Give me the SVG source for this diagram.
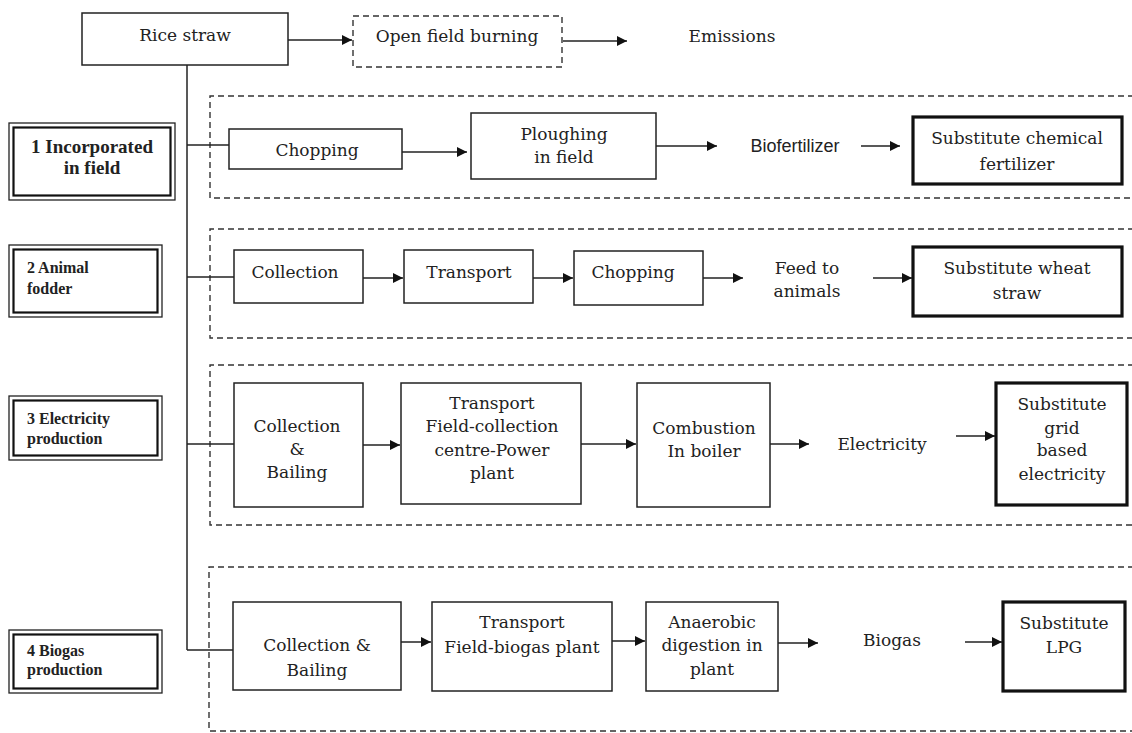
<svg xmlns="http://www.w3.org/2000/svg" width="1132" height="733" viewBox="0 0 1132 733">
<defs>
<marker id="ah" viewBox="0 0 10 10" refX="10" refY="5" markerWidth="10" markerHeight="10" markerUnits="userSpaceOnUse" orient="auto">
<path d="M0,0 L10,5 L0,10 z" fill="#111"/>
</marker>
<style>
text{font-family:"DejaVu Serif","Liberation Serif",serif;font-size:17px;fill:#222;text-anchor:middle}
.sans{font-family:"Liberation Sans",Arial,sans-serif;font-size:18px}
.lab{font-family:"Liberation Serif",serif;font-weight:bold;font-size:19px}
.lab2{font-family:"Liberation Serif",serif;font-weight:bold;font-size:16px;text-anchor:start}
.box{fill:#fff;stroke:#222;stroke-width:1.5}
.thick{fill:#fff;stroke:#111;stroke-width:3.2}
.dash{fill:none;stroke:#333;stroke-width:1.4;stroke-dasharray:6 4}
.outer{fill:#fff;stroke:#222;stroke-width:1.3}
.inner{fill:none;stroke:#111;stroke-width:2.2}
.con{fill:none;stroke:#222;stroke-width:1.5}
.arr{fill:none;stroke:#222;stroke-width:1.5;marker-end:url(#ah)}
</style>
</defs>
<rect width="1132" height="733" fill="#fff"/>

<g id="regions">
<path class="dash" d="M1134,96 H210 V198 H1134"/>
<path class="dash" d="M1134,229 H210 V338 H1134"/>
<path class="dash" d="M1134,365 H210 V525 H1134"/>
<path class="dash" d="M1134,567 H209 V731 H1134"/>
</g>

<g id="connectors">
<path class="con" d="M187,65 V650"/>
<path class="con" d="M187,145 H229"/>
<path class="con" d="M187,277 H234"/>
<path class="con" d="M187,444 H234"/>
<path class="con" d="M187,650 H233"/>
<path class="arr" d="M288,40 H352"/>
<path class="arr" d="M563,41 H627"/>
<path class="arr" d="M402,152 H467"/>
<path class="arr" d="M656,146 H717"/>
<path class="arr" d="M861,146 H900"/>
<path class="arr" d="M363,278 H403"/>
<path class="arr" d="M533,278 H573"/>
<path class="arr" d="M703,278 H743"/>
<path class="arr" d="M873,278 H912"/>
<path class="arr" d="M363,445 H400"/>
<path class="arr" d="M581,444 H636"/>
<path class="arr" d="M770,444 H809"/>
<path class="arr" d="M956,436 H995"/>
<path class="arr" d="M401,642 H431"/>
<path class="arr" d="M612,641 H645"/>
<path class="arr" d="M778,643 H818"/>
<path class="arr" d="M965,642 H1002"/>
</g>

<g id="rice-straw"><rect class="box" x="82" y="13" width="206" height="52"/><text x="185" y="41">Rice straw</text></g>
<g id="open-field-burning"><rect class="dash" x="353" y="16" width="209" height="51"/><text x="457" y="42">Open field burning</text></g>
<g id="emissions"><text x="732" y="42">Emissions</text></g>

<g id="label-1"><rect class="outer" x="9" y="123" width="166" height="77"/><rect class="inner" x="13.5" y="127.5" width="157" height="68"/><text class="lab" x="92" y="153">1 Incorporated</text><text class="lab" x="92" y="174">in field</text></g>
<g id="label-2"><rect class="outer" x="9" y="245" width="153" height="72"/><rect class="inner" x="13.5" y="249.5" width="144" height="63"/><text class="lab2" x="27" y="273">2 Animal</text><text class="lab2" x="27" y="294">fodder</text></g>
<g id="label-3"><rect class="outer" x="9" y="396" width="153" height="64"/><rect class="inner" x="13.5" y="400.5" width="144" height="55"/><text class="lab2" x="27" y="424">3 Electricity</text><text class="lab2" x="27" y="444">production</text></g>
<g id="label-4"><rect class="outer" x="9" y="630" width="153" height="63"/><rect class="inner" x="13.5" y="634.5" width="144" height="54"/><text class="lab2" x="27" y="656">4 Biogas</text><text class="lab2" x="27" y="675">production</text></g>

<g id="chopping-1"><rect class="box" x="229" y="129" width="173" height="40"/><text x="317" y="156">Chopping</text></g>
<g id="ploughing"><rect class="box" x="471" y="113" width="185" height="66"/><text x="564" y="140">Ploughing</text><text x="564" y="163">in field</text></g>
<g id="biofertilizer"><text class="sans" x="795" y="152">Biofertilizer</text></g>
<g id="sub-chem"><rect class="thick" x="913" y="117" width="209" height="67"/><text x="1017" y="144">Substitute chemical</text><text x="1017" y="170">fertilizer</text></g>

<g id="collection-2"><rect class="box" x="234" y="250" width="129" height="53"/><text x="295" y="278">Collection</text></g>
<g id="transport-2"><rect class="box" x="404" y="250" width="129" height="53"/><text x="469" y="278">Transport</text></g>
<g id="chopping-2"><rect class="box" x="574" y="251" width="129" height="54"/><text x="633" y="278">Chopping</text></g>
<g id="feed"><text x="807" y="274">Feed to</text><text x="807" y="297">animals</text></g>
<g id="sub-wheat"><rect class="thick" x="913" y="247" width="209" height="69"/><text x="1017" y="274">Substitute wheat</text><text x="1017" y="299">straw</text></g>

<g id="collection-3"><rect class="box" x="234" y="383" width="129" height="124"/><text x="297" y="432">Collection</text><text x="297" y="455">&amp;</text><text x="297" y="478">Bailing</text></g>
<g id="transport-3"><rect class="box" x="401" y="383" width="180" height="121"/><text x="492" y="409">Transport</text><text x="492" y="432">Field-collection</text><text x="492" y="456">centre-Power</text><text x="492" y="479">plant</text></g>
<g id="combustion"><rect class="box" x="637" y="383" width="133" height="124"/><text x="704" y="434">Combustion</text><text x="704" y="457">In boiler</text></g>
<g id="electricity"><text x="882" y="450">Electricity</text></g>
<g id="sub-grid"><rect class="thick" x="996" y="383" width="131" height="122"/><text x="1062" y="410">Substitute</text><text x="1062" y="434">grid</text><text x="1062" y="456">based</text><text x="1062" y="480">electricity</text></g>

<g id="collection-4"><rect class="box" x="233" y="602" width="168" height="88"/><text x="317" y="651">Collection &amp;</text><text x="317" y="676">Bailing</text></g>
<g id="transport-4"><rect class="box" x="432" y="602" width="180" height="89"/><text x="522" y="628">Transport</text><text x="522" y="653">Field-biogas plant</text></g>
<g id="anaerobic"><rect class="box" x="646" y="602" width="132" height="89"/><text x="712" y="628">Anaerobic</text><text x="712" y="651">digestion in</text><text x="712" y="675">plant</text></g>
<g id="biogas"><text x="892" y="646">Biogas</text></g>
<g id="sub-lpg"><rect class="thick" x="1003" y="602" width="122" height="89"/><text x="1064" y="629">Substitute</text><text x="1064" y="653">LPG</text></g>
</svg>
